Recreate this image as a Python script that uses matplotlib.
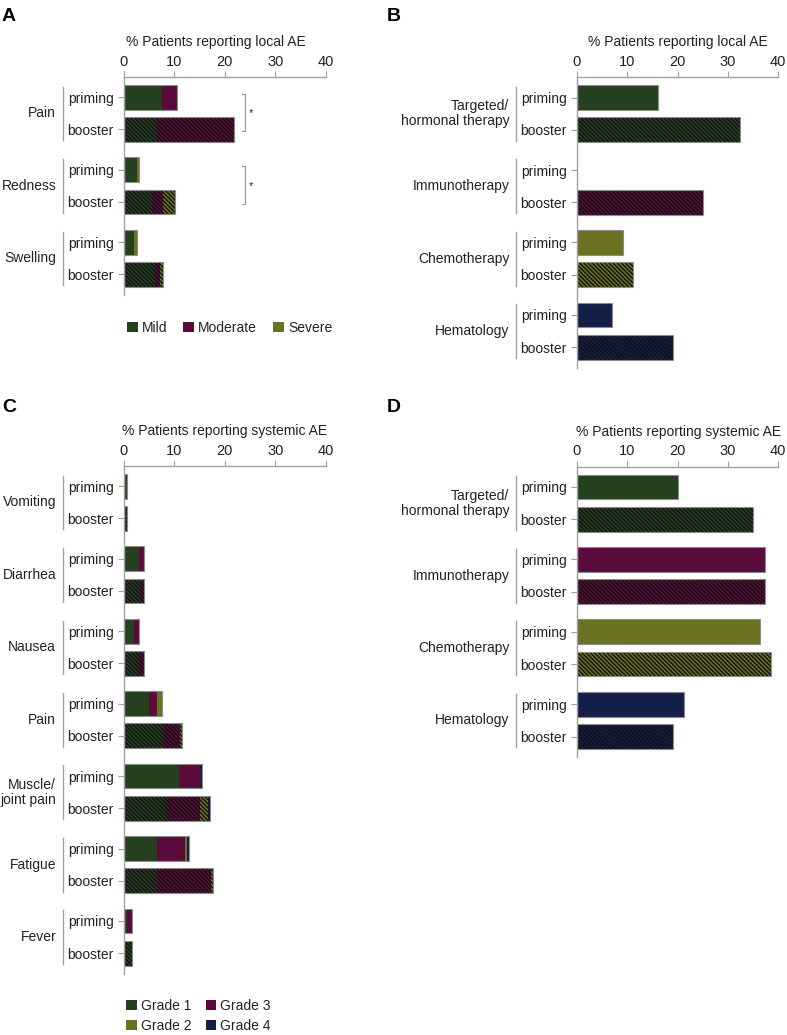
import matplotlib
matplotlib.use('Agg')
import matplotlib.pyplot as plt
from matplotlib.patches import Patch
from matplotlib.transforms import blended_transform_factory

plt.rcParams['font.family'] = ['Liberation Sans', 'DejaVu Sans']
plt.rcParams['font.size'] = 10
plt.rcParams['hatch.linewidth'] = 1.0

# --- data -------------------------------------------------------------
subs = ['priming', 'booster']

local_events = ['Pain', 'Redness', 'Swelling']
# bars ordered: event1 priming, event1 booster, event2 priming, ...
local_mild = [7.6, 6.6, 2.6, 5.6, 2.0, 6.1]
local_moderate = [2.9, 15.3, 0.0, 2.1, 0.0, 1.0]
local_severe = [0.0, 0.0, 0.5, 2.5, 0.6, 0.6]

systemic_events = ['Vomiting', 'Diarrhea', 'Nausea', 'Pain',
                   'Muscle/\njoint pain', 'Fatigue', 'Fever']
sys_grade1 = [0.65, 0.65, 3.1, 3.5, 2.0, 3.1, 5.0, 8.0, 11.0, 8.6, 6.6, 6.6, 0.6, 1.65]
sys_grade3 = [0.0, 0.0, 1.0, 0.6, 1.1, 1.0, 1.6, 3.1, 4.1, 6.5, 5.5, 10.6, 1.05, 0.0]
sys_grade2 = [0.0, 0.0, 0.0, 0.0, 0.0, 0.0, 1.0, 0.5, 0.0, 1.5, 0.4, 0.4, 0.0, 0.0]
sys_grade4 = [0.0, 0.0, 0.0, 0.0, 0.0, 0.0, 0.0, 0.0, 0.4, 0.5, 0.5, 0.0, 0.0, 0.0]

therapies = ['Targeted/\nhormonal therapy', 'Immunotherapy', 'Chemotherapy', 'Hematology']
local_therapy_priming = [16.2, 0.0, 9.1, 7.1]
local_therapy_booster = [32.4, 25.0, 11.2, 19.2]
sys_therapy_priming = [20.0, 37.4, 36.4, 21.2]
sys_therapy_booster = [35.0, 37.4, 38.5, 19.2]

# --- style ------------------------------------------------------------
green = '#25401f'
magenta = '#5b0b3b'
olive = '#6a7222'
navy = '#141f48'
therapy_colors = [green, magenta, olive, navy]
grey = '#a0a0a0'
txt = '#222222'

GROUP_STEP = 2.25
BAR_H = 0.77
PX_UNIT = 32.2
W, H = 787, 1035

fig = plt.figure(figsize=(W / 100, H / 100), dpi=100)


def make_axes(x0, x1, top, n_groups):
    y_lo, y_hi = -0.63, (n_groups - 1) * GROUP_STEP + 1 + 0.65
    h = (y_hi - y_lo) * PX_UNIT
    ax = fig.add_axes([x0 / W, 1 - (top + h) / H, (x1 - x0) / W, h / H])
    ax.set_ylim(y_hi, y_lo)
    return ax


def bar_positions(n_groups):
    return [g * GROUP_STEP + s for g in range(n_groups) for s in range(2)]


def style_axis(ax, title, title_x, groups):
    n = len(groups)
    pos = bar_positions(n)
    ax.set_xlim(0, 40)
    ax.set_xticks([0, 10, 20, 30, 40])
    ax.xaxis.tick_top()
    ax.xaxis.set_label_position('top')
    ax.set_xlabel(title, color=txt, fontsize=10)
    ax.xaxis.set_label_coords(title_x, 1 + 31 / (ax.bbox.height))
    ax.tick_params(axis='x', length=4, width=0.8, color=grey, labelcolor=txt,
                   pad=2, labelsize=10.5)
    ax.set_yticks(pos)
    ax.set_yticklabels(subs * n)
    ax.tick_params(axis='y', length=4, width=0.8, color=grey, labelcolor=txt, pad=3)
    for side in ('right', 'bottom'):
        ax.spines[side].set_visible(False)
    for side in ('left', 'top'):
        ax.spines[side].set_color(grey)
        ax.spines[side].set_linewidth(1.0)
    ax.set_facecolor('none')
    tr = blended_transform_factory(ax.transAxes, ax.transData)
    w = ax.bbox.width
    for g, name in enumerate(groups):
        c = g * GROUP_STEP
        ax.plot([-61 / w, -61 / w], [c - 0.33, c + 1.34], transform=tr,
                color=grey, lw=1.0, clip_on=False)
        ax.text(-67.5 / w, c + 0.5, name, transform=tr, ha='right', va='center',
                color=txt, fontsize=10, linespacing=1.1)


def stacked(ax, pos, series, colors):
    n = len(pos)
    for i in range(n):
        left = 0.0
        hatch = '\\' * 8 if i % 2 == 1 else None
        for vals, col in zip(series, colors):
            v = vals[i]
            if v <= 0:
                continue
            ax.barh(pos[i], v, left=left, height=BAR_H, color=col, hatch=hatch,
                    edgecolor='#111111', linewidth=0)
            left += v
        if left > 0:
            ax.barh(pos[i], left, height=BAR_H, fill=False, edgecolor='#8c8c8c',
                    linewidth=0.8)


# --- panel A ----------------------------------------------------------
axA = make_axes(123.7, 326.0, 77.0, len(local_events))
style_axis(axA, '% Patients reporting local AE', 0.455, local_events)
stacked(axA, bar_positions(3), [local_mild, local_moderate, local_severe],
        [green, magenta, olive])
# significance brackets
for g in (0, 1):
    c = g * GROUP_STEP
    axA.plot([23.3, 23.9, 23.9, 23.3], [c - 0.11, c - 0.11, c + 1.05, c + 1.05],
             color=grey, lw=0.9, clip_on=False)
    axA.text(25.2, c + 0.5, '*', ha='center', va='center', fontsize=8, color=txt)
fig.legend(handles=[Patch(facecolor=green, edgecolor='none', label='Mild'),
                    Patch(facecolor=magenta, edgecolor='none', label='Moderate'),
                    Patch(facecolor=olive, edgecolor='none', label='Severe')],
           loc='center', bbox_to_anchor=(229.6 / W, 1 - 327.7 / H), ncol=3,
           frameon=False, handlelength=0.77, handleheight=0.77,
           handletextpad=0.3, columnspacing=1.15, fontsize=10, labelcolor=txt)

# --- panel B ----------------------------------------------------------
axB = make_axes(576.7, 778.3, 77.3, len(therapies))
style_axis(axB, '% Patients reporting local AE', 0.502, therapies)
posB = bar_positions(4)
for g in range(4):
    stacked(axB, posB[2 * g:2 * g + 2],
            [[local_therapy_priming[g], local_therapy_booster[g]]],
            [therapy_colors[g]])

# --- panel C ----------------------------------------------------------
axC = make_axes(123.7, 326.0, 466.0, len(systemic_events))
style_axis(axC, '% Patients reporting systemic AE', 0.5, systemic_events)
stacked(axC, bar_positions(7), [sys_grade1, sys_grade3, sys_grade2, sys_grade4],
        [green, magenta, olive, navy])
fig.legend(handles=[Patch(facecolor=green, edgecolor='none', label='Grade 1'),
                    Patch(facecolor=olive, edgecolor='none', label='Grade 2'),
                    Patch(facecolor=magenta, edgecolor='none', label='Grade 3'),
                    Patch(facecolor=navy, edgecolor='none', label='Grade 4')],
           loc='center', bbox_to_anchor=(198.5 / W, 1 - 1015.7 / H), ncol=2,
           frameon=False, handlelength=0.77, handleheight=0.77,
           handletextpad=0.3, columnspacing=1.0, labelspacing=0.45,
           fontsize=10, labelcolor=txt)

# --- panel D ----------------------------------------------------------
axD = make_axes(576.7, 778.3, 466.7, len(therapies))
style_axis(axD, '% Patients reporting systemic AE', 0.504, therapies)
for g in range(4):
    stacked(axD, posB[2 * g:2 * g + 2],
            [[sys_therapy_priming[g], sys_therapy_booster[g]]],
            [therapy_colors[g]])

# panel letters
for lab, x, y in [('A', 2, 20.7), ('B', 387, 20.7), ('C', 2, 412.5), ('D', 387, 412.5)]:
    fig.text(x / W, 1 - y / H, lab, fontsize=14, fontweight='bold', va='baseline')

fig.savefig('out.png', dpi=100)
